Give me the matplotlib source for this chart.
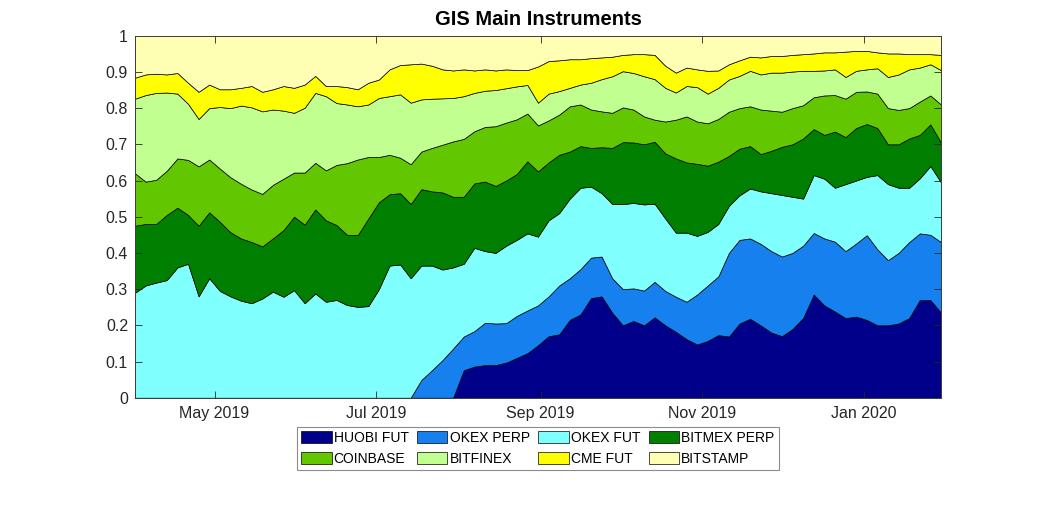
import numpy as np
import pandas as pd
import matplotlib
matplotlib.use("Agg")
import matplotlib.pyplot as plt
import matplotlib.dates as mdates
from matplotlib.ticker import FuncFormatter

# ---- data (cumulative top of each stacked layer, every 4 days) ----
dates = pd.date_range("2019-04-01", periods=77, freq="4D")

cum_huobi_fut = [0.0] * 31 + [
    0.076, 0.086, 0.09, 0.09, 0.097, 0.11, 0.123, 0.145, 0.17, 0.175,
    0.215, 0.23, 0.275, 0.28, 0.235, 0.20, 0.212, 0.20, 0.222, 0.20,
    0.182, 0.162, 0.147, 0.157, 0.173, 0.169, 0.205, 0.218, 0.20, 0.18,
    0.17, 0.19, 0.22, 0.285, 0.255, 0.238, 0.22, 0.224, 0.215, 0.20,
    0.20, 0.205, 0.22, 0.27, 0.27, 0.235]

cum_okex_perp = [0.0] * 27 + [
    0.049, 0.076, 0.104, 0.136, 0.169, 0.184, 0.207, 0.205, 0.206, 0.226,
    0.241, 0.255, 0.28, 0.31, 0.33, 0.355, 0.387, 0.39, 0.33, 0.30,
    0.302, 0.296, 0.32, 0.295, 0.279, 0.265, 0.285, 0.31, 0.335, 0.40,
    0.436, 0.44, 0.425, 0.405, 0.39, 0.40, 0.42, 0.455, 0.44, 0.431,
    0.405, 0.426, 0.449, 0.41, 0.38, 0.40, 0.43, 0.454, 0.45, 0.43]

cum_okex_fut = [
    0.29, 0.31, 0.318, 0.325, 0.36, 0.37, 0.28, 0.33, 0.295, 0.28,
    0.268, 0.261, 0.274, 0.293, 0.279, 0.297, 0.261, 0.288, 0.265, 0.27,
    0.256, 0.251, 0.253, 0.30, 0.365, 0.368, 0.33, 0.365, 0.365, 0.354,
    0.36, 0.37, 0.414, 0.405, 0.40, 0.42, 0.436, 0.454, 0.445, 0.49,
    0.51, 0.55, 0.58, 0.583, 0.565, 0.535, 0.535, 0.538, 0.534, 0.536,
    0.495, 0.456, 0.456, 0.447, 0.458, 0.48, 0.53, 0.559, 0.578, 0.57,
    0.565, 0.56, 0.555, 0.55, 0.615, 0.605, 0.58, 0.59, 0.60, 0.61,
    0.615, 0.59, 0.58, 0.58, 0.606, 0.64, 0.595]

cum_bitmex_perp = [
    0.475, 0.48, 0.48, 0.505, 0.525, 0.505, 0.475, 0.512, 0.486, 0.457,
    0.44, 0.43, 0.418, 0.44, 0.463, 0.50, 0.478, 0.52, 0.49, 0.477,
    0.45, 0.449, 0.495, 0.54, 0.562, 0.565, 0.535, 0.576, 0.57, 0.567,
    0.555, 0.555, 0.592, 0.597, 0.585, 0.60, 0.618, 0.653, 0.625, 0.65,
    0.671, 0.68, 0.695, 0.69, 0.692, 0.69, 0.706, 0.705, 0.70, 0.707,
    0.675, 0.661, 0.65, 0.646, 0.641, 0.652, 0.668, 0.688, 0.695, 0.673,
    0.682, 0.693, 0.70, 0.716, 0.742, 0.726, 0.735, 0.72, 0.745, 0.756,
    0.745, 0.70, 0.70, 0.716, 0.726, 0.755, 0.705]

cum_coinbase = [
    0.62, 0.597, 0.602, 0.627, 0.661, 0.657, 0.639, 0.658, 0.633, 0.609,
    0.591, 0.575, 0.563, 0.588, 0.605, 0.622, 0.622, 0.649, 0.628, 0.643,
    0.648, 0.658, 0.665, 0.665, 0.671, 0.663, 0.645, 0.68, 0.69, 0.699,
    0.708, 0.715, 0.736, 0.748, 0.75, 0.76, 0.769, 0.785, 0.752, 0.766,
    0.782, 0.805, 0.81, 0.796, 0.791, 0.787, 0.802, 0.796, 0.777, 0.768,
    0.763, 0.768, 0.777, 0.763, 0.758, 0.77, 0.79, 0.80, 0.805, 0.796,
    0.793, 0.79, 0.80, 0.808, 0.83, 0.835, 0.836, 0.826, 0.845, 0.846,
    0.84, 0.80, 0.795, 0.80, 0.818, 0.835, 0.81]

cum_bitfinex = [
    0.826, 0.836, 0.842, 0.843, 0.84, 0.812, 0.77, 0.80, 0.803, 0.80,
    0.807, 0.802, 0.791, 0.796, 0.793, 0.787, 0.801, 0.842, 0.833, 0.814,
    0.81, 0.805, 0.81, 0.828, 0.833, 0.838, 0.815, 0.824, 0.826, 0.827,
    0.828, 0.833, 0.842, 0.848, 0.85, 0.855, 0.86, 0.864, 0.815, 0.84,
    0.847, 0.856, 0.865, 0.87, 0.88, 0.888, 0.902, 0.897, 0.888, 0.88,
    0.856, 0.843, 0.861, 0.858, 0.84, 0.856, 0.879, 0.889, 0.903, 0.893,
    0.898, 0.898, 0.901, 0.903, 0.903, 0.904, 0.907, 0.886, 0.903, 0.907,
    0.91, 0.886, 0.893, 0.907, 0.912, 0.921, 0.905]

cum_cme_fut = [
    0.884, 0.893, 0.895, 0.893, 0.897, 0.87, 0.845, 0.865, 0.852, 0.852,
    0.856, 0.861, 0.845, 0.852, 0.861, 0.856, 0.865, 0.889, 0.861, 0.861,
    0.858, 0.852, 0.87, 0.879, 0.907, 0.919, 0.921, 0.923, 0.917, 0.907,
    0.904, 0.907, 0.904, 0.907, 0.904, 0.907, 0.905, 0.905, 0.915, 0.93,
    0.932, 0.935, 0.935, 0.938, 0.94, 0.942, 0.947, 0.949, 0.949, 0.947,
    0.917, 0.898, 0.912, 0.907, 0.903, 0.904, 0.921, 0.932, 0.942, 0.94,
    0.944, 0.944, 0.947, 0.949, 0.951, 0.954, 0.954, 0.956, 0.958, 0.958,
    0.954, 0.951, 0.951, 0.949, 0.949, 0.949, 0.947]

labels = ["HUOBI FUT", "OKEX PERP", "OKEX FUT", "BITMEX PERP",
          "COINBASE", "BITFINEX", "CME FUT", "BITSTAMP"]
colors = ["#00008B", "#1580EE", "#80FFFF", "#007F00",
          "#62C600", "#C0FF90", "#FFFF00", "#FFFFB4"]

# shares of each instrument (the full stack sums to 1)
cum = np.vstack([cum_huobi_fut, cum_okex_perp, cum_okex_fut, cum_bitmex_perp,
                 cum_coinbase, cum_bitfinex, cum_cme_fut, np.ones(len(dates))])
shares = np.diff(np.vstack([np.zeros(len(dates)), cum]), axis=0)

plt.rcParams["font.family"] = ["Liberation Sans", "DejaVu Sans"]

fig = plt.figure(figsize=(10.4, 5.19), dpi=100)
ax = fig.add_axes([0.1298, 0.2337, 0.7750, 0.6975])

polys = ax.stackplot(dates, shares, colors=colors, labels=labels,
                     edgecolor="black", linewidth=0.5)

ax.set_xlim(dates[0], dates[-1])
ax.set_ylim(0, 1)
ax.set_yticks(np.arange(0, 1.01, 0.1))
ax.yaxis.set_major_formatter(FuncFormatter(lambda v, p: "%g" % round(v, 1)))
ax.set_xticks(pd.to_datetime(["2019-05-01", "2019-07-01", "2019-09-01",
                              "2019-11-01", "2020-01-01"]))
ax.xaxis.set_major_formatter(mdates.DateFormatter("%b %Y"))

ax.tick_params(direction="in", top=True, right=True, length=5, width=0.6,
               labelsize=11.5, colors="#262626")
ax.tick_params(axis="y", pad=5)
ax.tick_params(axis="x", pad=6)
for s in ax.spines.values():
    s.set_color("#404040")
    s.set_linewidth(0.7)

ax.set_title("GIS Main Instruments", fontsize=14.5, fontweight="bold", pad=8)

order = [0, 4, 1, 5, 2, 6, 3, 7]
leg = fig.legend([polys[i] for i in order], [labels[i] for i in order],
                 loc="upper center", bbox_to_anchor=(0.517, 0.178),
                 ncol=4, fontsize=10, frameon=True, fancybox=False,
                 edgecolor="#8c8c8c", framealpha=1, borderpad=0.3,
                 handlelength=2.2, handleheight=0.95, handletextpad=0.15,
                 columnspacing=0.6, labelspacing=0.5, borderaxespad=0)
leg.get_frame().set_linewidth(0.8)

fig.savefig("out.png", dpi=100)
